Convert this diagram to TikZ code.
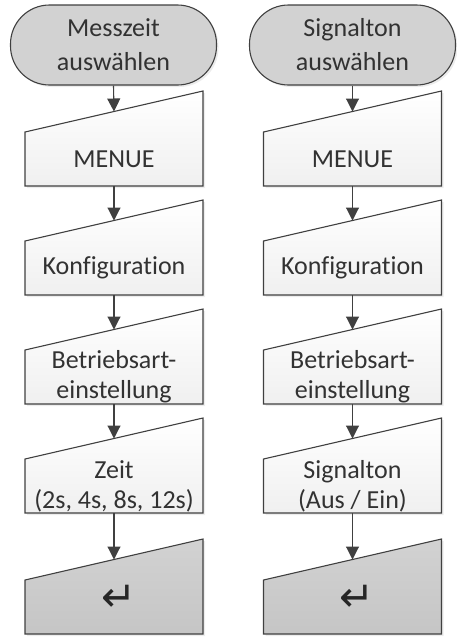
\documentclass[tikz,border=0pt]{standalone}
\usepackage{fontspec}
\setmainfont{Carlito}[Ligatures=NoCommon]
\newfontfamily\symfont{DejaVu Sans}
\usetikzlibrary{arrows.meta,backgrounds,shadows}
\definecolor{linegray}{RGB}{64,64,64}
\definecolor{fillgray}{RGB}{210,210,210}
\definecolor{textgray}{RGB}{50,50,50}

\begin{document}
\begin{tikzpicture}[x=1pt, y=-1pt,
    term/.style={draw=linegray, line width=1.1pt, fill=fillgray, rounded corners=39pt,
        minimum width=206pt, minimum height=80pt, inner sep=0pt, align=center,
        font=\fontsize{26}{34}\selectfont, text=textgray,
        drop shadow={shadow xshift=2pt, shadow yshift=-2pt, opacity=0.15}},
    inbox/.style={minimum width=178pt, minimum height=54pt, inner sep=0pt, align=center,
        font=\fontsize{26}{30}\selectfont, text=textgray},
    retsym/.style={font=\symfont\fontsize{42}{42}\selectfont, text=black!85},
    inshape/.style={draw=linegray, line width=1.1pt,
        drop shadow={shadow xshift=2pt, shadow yshift=-2pt, opacity=0.15}},
    flow/.style={draw=linegray, line width=1.1pt, -{Triangle[length=13pt,width=13pt]}}]
    \useasboundingbox (0,0) rectangle (456,641);

    % Nodes, left column
    \node[term] (m0) at (113.5,45) {Messzeit\\auswählen};
    \node[inbox] (m1) at (114,159) {MENUE};
    \node[inbox] (m2) at (114,268) {Konfiguration};
    \node[inbox] (m3) at (114,377) {Betriebsart-\\einstellung};
    \node[inbox] (m4) at (114,486) {Zeit\\(2s, 4s, 8s, 12s)};
    \node[inbox] (m5) at (114,607) {};
    \node[retsym] (m6) at (119,598) {↵};

    % Nodes, right column
    \node[term] (s0) at (352.5,45) {Signalton\\auswählen};
    \node[inbox] (s1) at (352.5,159) {MENUE};
    \node[inbox] (s2) at (352.5,268) {Konfiguration};
    \node[inbox] (s3) at (352.5,377) {Betriebsart-\\einstellung};
    \node[inbox] (s4) at (352.5,486) {Signalton\\(Aus / Ein)};
    \node[inbox] (s5) at (352.5,607) {};
    \node[retsym] (s6) at (357.5,598) {↵};

    % Manual input outlines
    \begin{scope}[on background layer]
    \foreach \n/\f in {m1/white, m2/white, m3/white, m4/white, m5/fillgray,
                       s1/white, s2/white, s3/white, s4/white, s5/fillgray}
        \path[inshape, top color=\f, bottom color=\f!94!black]
            ([shift={(-89,27)}]\n.center) -- ([shift={(-89,-27)}]\n.center)
            -- ([shift={(89,-68)}]\n.center) -- ([shift={(89,27)}]\n.center) -- cycle;
    \end{scope}

    % Edges
    \foreach \a/\b in {m0/m1, s0/s1}
        \draw[flow] (\a.south) -- ([shift={(0,-47.5)}]\b.center);
    \foreach \a/\b in {m1/m2, m2/m3, m3/m4, m4/m5, s1/s2, s2/s3, s3/s4, s4/s5}
        \draw[flow] ([shift={(0,27)}]\a.center) -- ([shift={(0,-47.5)}]\b.center);
\end{tikzpicture}
\end{document}
